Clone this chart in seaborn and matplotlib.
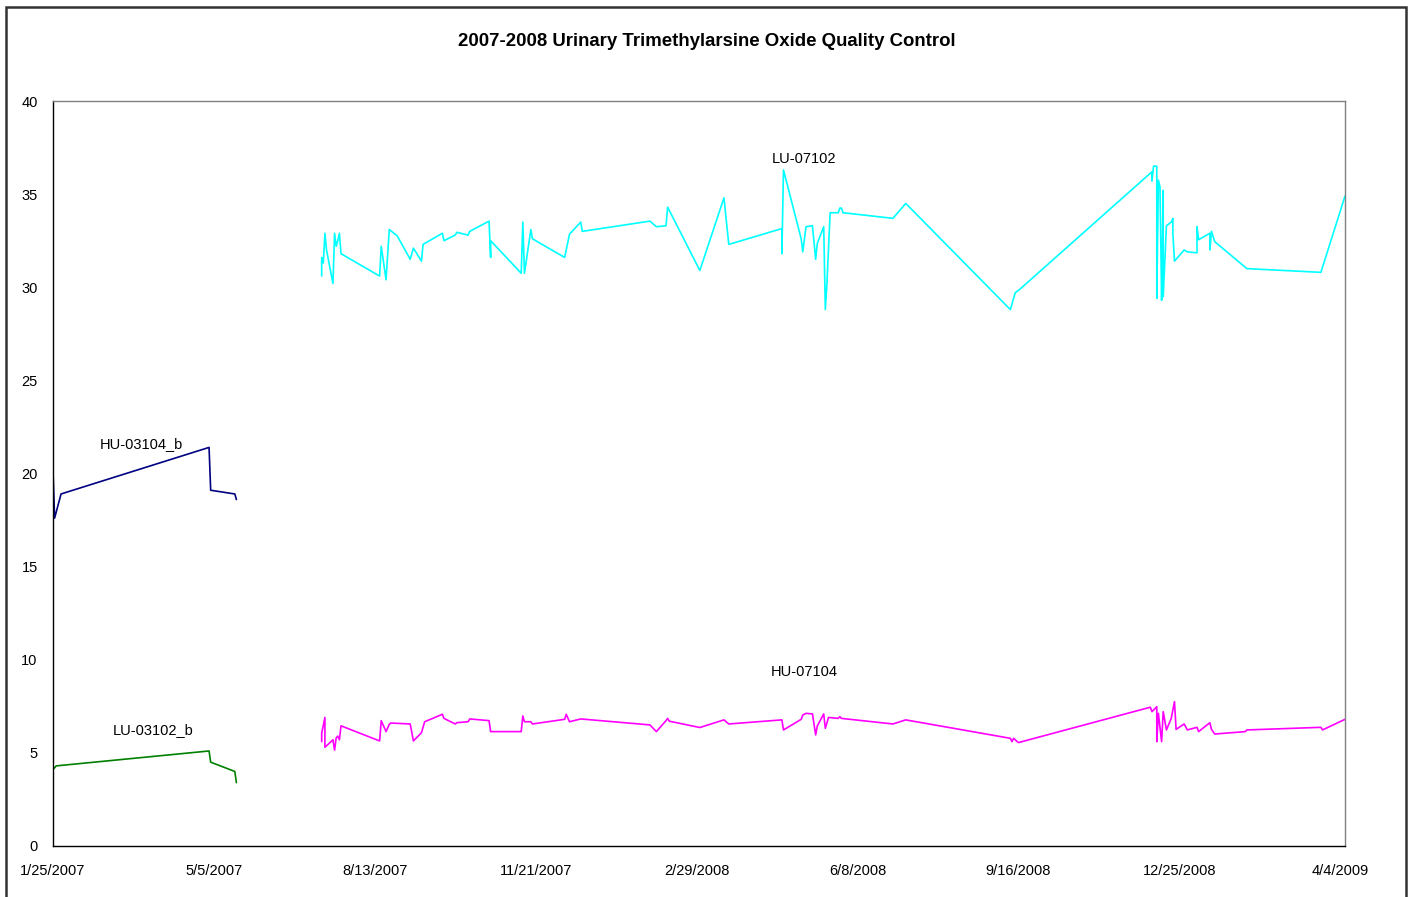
import pandas as pd
import matplotlib.pyplot as plt
from matplotlib.patches import Rectangle
import seaborn as sns

# values
hu03104_dates = ["2007-01-25", "2007-01-26", "2007-01-30", "2007-05-02", "2007-05-03",
                 "2007-05-18", "2007-05-19"]
hu03104_vals = [20.2, 17.6, 18.9, 21.4, 19.1, 18.9, 18.6]

lu03102_dates = ["2007-01-25", "2007-01-27", "2007-05-02", "2007-05-03", "2007-05-18",
                 "2007-05-19"]
lu03102_vals = [4.1, 4.3, 5.1, 4.5, 4.0, 3.4]

lu07102_dates = [
    "2007-07-11", "2007-07-11", "2007-07-12", "2007-07-13", "2007-07-14", "2007-07-18",
    "2007-07-19", "2007-07-20", "2007-07-21", "2007-07-22", "2007-07-23", "2007-08-16",
    "2007-08-17", "2007-08-20", "2007-08-22", "2007-08-27", "2007-09-04", "2007-09-06",
    "2007-09-11", "2007-09-12", "2007-09-24", "2007-09-25", "2007-10-02", "2007-10-03",
    "2007-10-10", "2007-10-11", "2007-10-23", "2007-10-24", "2007-10-24", "2007-11-12",
    "2007-11-13", "2007-11-14", "2007-11-18", "2007-11-19", "2007-12-09", "2007-12-12",
    "2007-12-19", "2007-12-20", "2008-01-31", "2008-02-04", "2008-02-10", "2008-02-11",
    "2008-03-02", "2008-03-17", "2008-03-20", "2008-04-22", "2008-04-22", "2008-04-23",
    "2008-05-04", "2008-05-05", "2008-05-07", "2008-05-11", "2008-05-13", "2008-05-14",
    "2008-05-18", "2008-05-19", "2008-05-20", "2008-05-22", "2008-05-27", "2008-05-28",
    "2008-05-29", "2008-05-30", "2008-06-30", "2008-07-08", "2008-09-11", "2008-09-14",
    "2008-09-17", "2008-12-08", "2008-12-08", "2008-12-09", "2008-12-11", "2008-12-11",
    "2008-12-12", "2008-12-13", "2008-12-14", "2008-12-14", "2008-12-15", "2008-12-15",
    "2008-12-17", "2008-12-20", "2008-12-21", "2008-12-21", "2008-12-22", "2008-12-28",
    "2008-12-30", "2009-01-05", "2009-01-05", "2009-01-06", "2009-01-13", "2009-01-13",
    "2009-01-14", "2009-01-16", "2009-02-05", "2009-03-23", "2009-04-07"]
lu07102_vals = [
    30.6, 31.6, 31.3, 32.9, 32.0, 30.2,
    32.9, 32.2, 32.5, 32.9, 31.8, 30.6,
    32.2, 30.4, 33.1, 32.75, 31.5, 32.1,
    31.4, 32.3, 32.9, 32.5, 32.8, 32.95,
    32.8, 33.0, 33.55, 31.6, 32.5, 30.75,
    33.5, 30.75, 33.1, 32.6, 31.6, 32.85,
    33.5, 33.0, 33.55, 33.25, 33.3, 34.3,
    30.9, 34.8, 32.3, 33.15, 31.8, 36.3,
    32.6, 31.9, 33.25, 33.3, 31.5, 32.35,
    33.25, 28.8, 30.2, 34.0, 34.0, 34.25,
    34.25, 34.0, 33.7, 34.5, 28.8, 29.7,
    29.9, 36.2, 35.7, 36.5, 36.5, 29.4,
    35.75, 35.4, 29.4, 29.3, 35.2, 29.5,
    33.3, 33.5, 33.7, 32.9, 31.4, 32.0,
    31.9, 31.85, 33.25, 32.55, 32.9, 32.0,
    33.0, 32.45, 31.0, 30.8, 34.9]

hu07104_dates = [
    "2007-07-11", "2007-07-11", "2007-07-13", "2007-07-13", "2007-07-18", "2007-07-19",
    "2007-07-20", "2007-07-21", "2007-07-22", "2007-07-23", "2007-08-16", "2007-08-17",
    "2007-08-20", "2007-08-22", "2007-08-23", "2007-09-04", "2007-09-06", "2007-09-11",
    "2007-09-13", "2007-09-24", "2007-09-25", "2007-10-02", "2007-10-03", "2007-10-10",
    "2007-10-11", "2007-10-23", "2007-10-24", "2007-11-12", "2007-11-13", "2007-11-14",
    "2007-11-18", "2007-11-19", "2007-12-09", "2007-12-10", "2007-12-12", "2007-12-19",
    "2008-01-31", "2008-02-04", "2008-02-10", "2008-02-11", "2008-02-12", "2008-03-02",
    "2008-03-17", "2008-03-20", "2008-04-22", "2008-04-23", "2008-05-04", "2008-05-05",
    "2008-05-07", "2008-05-11", "2008-05-13", "2008-05-14", "2008-05-18", "2008-05-19",
    "2008-05-21", "2008-05-27", "2008-05-28", "2008-05-29", "2008-06-30", "2008-07-08",
    "2008-09-11", "2008-09-12", "2008-09-13", "2008-09-16", "2008-12-07", "2008-12-08",
    "2008-12-11", "2008-12-11", "2008-12-12", "2008-12-14", "2008-12-15", "2008-12-17",
    "2008-12-20", "2008-12-22", "2008-12-23", "2008-12-28", "2008-12-30", "2009-01-05",
    "2009-01-06", "2009-01-13", "2009-01-14", "2009-01-16", "2009-02-04", "2009-02-05",
    "2009-03-23", "2009-03-24", "2009-04-07"]
hu07104_vals = [
    5.6, 6.05, 6.9, 5.3, 5.7, 5.15,
    5.8, 5.9, 5.7, 6.45, 5.64, 6.73,
    6.14, 6.53, 6.6, 6.55, 5.64, 6.08,
    6.67, 7.07, 6.85, 6.55, 6.62, 6.67,
    6.82, 6.73, 6.14, 6.14, 6.98, 6.67,
    6.67, 6.55, 6.8, 7.07, 6.67, 6.82,
    6.5, 6.14, 6.73, 6.85, 6.7, 6.36,
    6.77, 6.55, 6.77, 6.23, 6.8, 7.03,
    7.12, 7.09, 5.96, 6.44, 7.09, 6.32,
    6.9, 6.85, 6.94, 6.85, 6.55, 6.77,
    5.78, 5.6, 5.78, 5.55, 7.45, 7.21,
    7.48, 5.6, 7.12, 5.6, 7.21, 6.23,
    6.85, 7.75, 6.26, 6.55, 6.23, 6.37,
    6.14, 6.62, 6.26, 6.01, 6.14, 6.23,
    6.37, 6.23, 6.8]

series = [
    ("HU-03104_b", hu03104_dates, hu03104_vals, "#000080"),
    ("LU-03102_b", lu03102_dates, lu03102_vals, "#008000"),
    ("LU-07102", lu07102_dates, lu07102_vals, "#00FFFF"),
    ("HU-07104", hu07104_dates, hu07104_vals, "#FF00FF"),
]

# label positions (date, value)
labels = {
    "HU-03104_b": ("2007-03-21", 21.6),
    "LU-03102_b": ("2007-03-28", 6.2),
    "LU-07102": ("2008-05-06", 36.9),
    "HU-07104": ("2008-05-06", 9.35),
}

sns.set_style("white")
plt.rcParams['font.family'] = ['Liberation Sans', 'DejaVu Sans']
plt.rcParams['text.color'] = 'black'
plt.rcParams['xtick.color'] = 'black'
plt.rcParams['ytick.color'] = 'black'

fig = plt.figure(figsize=(14.13, 8.97), dpi=100)
ax = fig.add_axes([0.0375, 0.0569, 0.9144, 0.8305])

for name, d, v, col in series:
    df = pd.DataFrame({"date": pd.to_datetime(d), "value": v})
    sns.lineplot(data=df, x="date", y="value", color=col, linewidth=1.2,
                 estimator=None, sort=False, ax=ax)
    lx, ly = labels[name]
    ax.text(pd.Timestamp(lx), ly, name, ha="center", va="center", fontsize=10.5)

start = pd.Timestamp("2007-01-25")
ax.set_xlim(start, pd.Timestamp("2009-04-07"))
ax.set_ylim(0, 40)
ax.set_yticks(range(0, 41, 5))
ticks = [start + pd.Timedelta(days=100 * i) for i in range(9)]
ax.set_xticks(ticks)
ax.set_xticklabels([f"{t.month}/{t.day}/{t.year}" for t in ticks])
ax.set_xlabel("")
ax.set_ylabel("")
ax.tick_params(axis="both", which="major", direction="out", length=5, width=1,
               labelsize=10.5, color="black", labelcolor="black", pad=6)
ax.tick_params(axis="x", pad=8)
for side in ["left", "bottom"]:
    ax.spines[side].set_color("black")
    ax.spines[side].set_linewidth(1.0)
for side in ["top", "right"]:
    ax.spines[side].set_visible(True)
    ax.spines[side].set_color("#808080")
    ax.spines[side].set_linewidth(1.0)

fig.text(0.5, 0.954, "2007-2008 Urinary Trimethylarsine Oxide Quality Control",
         ha="center", va="center", fontsize=13.4, fontweight="bold", color="black")

# outer chart border
fig.patches.append(Rectangle((6 / 1413, -0.05), 1400 / 1413, 1 - 7 / 897 + 0.05,
                             transform=fig.transFigure, fill=False,
                             edgecolor="#333333", linewidth=1.8))

fig.savefig("out.png", dpi=100)
